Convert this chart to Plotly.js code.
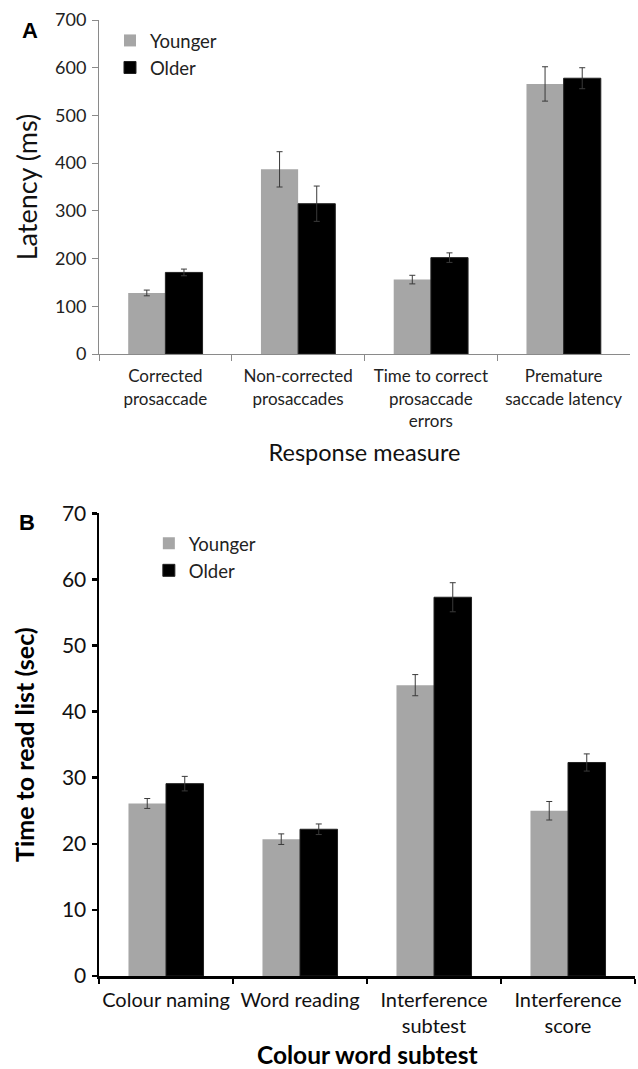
<!DOCTYPE html>
<html>
<head>
<meta charset="utf-8">
<script src="https://cdn.plot.ly/plotly-3.0.1.min.js"></script>
<style>html,body{margin:0;padding:0;background:#fff;}#chart{width:638px;height:1069px;}</style>
</head>
<body>
<div id="chart"></div>
<script>
// Panel A data
const catsA = ["Corrected<br>prosaccade", "Non-corrected<br>prosaccades", "Time to correct<br>prosaccade<br>errors", "Premature<br>saccade latency"];
const youngerA = [128, 387, 156, 566];
const youngerAErr = [6, 37, 9, 36];
const olderA = [171, 315, 202, 578];
const olderAErr = [7, 37, 10, 22];

// Panel B data
const catsB = ["Colour naming", "Word reading", "Interference<br>subtest", "Interference<br>score"];
const youngerB = [26.1, 20.7, 44.0, 25.0];
const youngerBErr = [0.75, 0.8, 1.6, 1.4];
const olderB = [29.1, 22.2, 57.3, 32.3];
const olderBErr = [1.1, 0.8, 2.2, 1.3];

const seriesNames = ["Younger", "Older"];

const FONT = "Lato, 'Open Sans', sans-serif";
const GREY = "#a6a6a6";
const ERRC = "#3a3a3a";

const traces = [
  {type: "bar", x: catsA, y: youngerA, name: seriesNames[0], xaxis: "x", yaxis: "y",
   marker: {color: GREY}, legend: "legend", legendgroup: "a1",
   error_y: {type: "data", array: youngerAErr, visible: true, color: ERRC, thickness: 1, width: 3}},
  {type: "bar", x: catsA, y: olderA, name: seriesNames[1], xaxis: "x", yaxis: "y",
   marker: {color: "#000", line: {color: "#222", width: 1}}, legend: "legend", legendgroup: "a2",
   error_y: {type: "data", array: olderAErr, visible: true, color: ERRC, thickness: 1, width: 3}},
  {type: "bar", x: catsB, y: youngerB, name: seriesNames[0], xaxis: "x2", yaxis: "y2",
   marker: {color: GREY}, legend: "legend2", legendgroup: "b1",
   error_y: {type: "data", array: youngerBErr, visible: true, color: ERRC, thickness: 1, width: 3}},
  {type: "bar", x: catsB, y: olderB, name: seriesNames[1], xaxis: "x2", yaxis: "y2",
   marker: {color: "#000", line: {color: "#222", width: 1}}, legend: "legend2", legendgroup: "b2",
   error_y: {type: "data", array: olderBErr, visible: true, color: ERRC, thickness: 1, width: 3}}
];

const layout = {
  width: 638, height: 1069,
  margin: {l: 99, r: 3, t: 20, b: 93},
  paper_bgcolor: "#fff", plot_bgcolor: "#fff",
  font: {family: FONT, color: "#222"},
  barmode: "group", bargap: 0.44, bargroupgap: 0,
  showlegend: true,
  xaxis: {
    domain: [0, 0.9907], anchor: "y", type: "category",
    showline: true, linecolor: "#8a8a8a", linewidth: 1,
    ticks: "outside", tickson: "boundaries", ticklen: 6, tickcolor: "#8a8a8a", tickwidth: 1,
    tickfont: {size: 17, color: "#222"}, ticklabelstandoff: 7, tickangle: 0,
    title: {text: "Response measure", font: {size: 23.5, color: "#111"}, standoff: 14},
    showgrid: false, zeroline: false, automargin: false, fixedrange: true
  },
  yaxis: {
    domain: [0.6506, 1], anchor: "x", range: [0, 700], dtick: 100,
    showline: true, linecolor: "#8a8a8a", linewidth: 1,
    ticks: "outside", ticklen: 6, tickcolor: "#8a8a8a", tickwidth: 1,
    tickfont: {size: 18, color: "#222"}, ticklabelstandoff: 2,
    title: {text: "Latency (ms)", font: {size: 27, color: "#111"}, standoff: 9},
    showgrid: false, zeroline: false, automargin: false, fixedrange: true
  },
  xaxis2: {
    domain: [0, 1], anchor: "y2", type: "category",
    showline: true, linecolor: "#000", linewidth: 2.5,
    ticks: "outside", tickson: "boundaries", ticklen: 5, tickcolor: "#000", tickwidth: 2.5,
    tickfont: {size: 20, color: "#111"}, ticklabelstandoff: 4, tickangle: 0,
    showgrid: false, zeroline: false, automargin: false, fixedrange: true
  },
  yaxis2: {
    domain: [0, 0.484], anchor: "x2", range: [0, 70], dtick: 10,
    showline: true, linecolor: "#000", linewidth: 2.5,
    ticks: "outside", ticklen: 5, tickcolor: "#000", tickwidth: 2.5,
    tickfont: {size: 21, color: "#111"}, ticklabelstandoff: 1,
    title: {text: "<b>Time to read list (sec)</b>", font: {size: 25, color: "#000"}, standoff: 20},
    showgrid: false, zeroline: false, automargin: false, fixedrange: true
  },
  legend: {
    x: 0.0205, xanchor: "left", y: 0.998, yanchor: "top",
    font: {size: 18.5, color: "#222"}, bgcolor: "rgba(0,0,0,0)",
    tracegroupgap: 10, itemwidth: 30, traceorder: "normal"
  },
  legend2: {
    x: 0.093, xanchor: "left", y: 0.472, yanchor: "top",
    font: {size: 18.5, color: "#222"}, bgcolor: "rgba(0,0,0,0)",
    tracegroupgap: 20, itemwidth: 30, traceorder: "normal"
  },
  annotations: [
    {text: "<b>A</b>", xref: "paper", yref: "paper", x: -0.128, y: 0.9885, xanchor: "center", yanchor: "middle",
     showarrow: false, font: {family: "'Liberation Sans', Arial, sans-serif", size: 22, color: "#000"}},
    {text: "<b>B</b>", xref: "paper", yref: "paper", x: -0.1335, y: 0.4745, xanchor: "center", yanchor: "middle",
     showarrow: false, font: {family: "'Liberation Sans', Arial, sans-serif", size: 22, color: "#000"}},
    {text: "<b>Colour word subtest</b>", xref: "paper", yref: "paper", x: 0.5, y: -0.0826, xanchor: "center", yanchor: "middle",
     showarrow: false, font: {family: FONT, size: 24.5, color: "#000"}}
  ]
};

Plotly.newPlot("chart", traces, layout, {displayModeBar: false, staticPlot: true});
</script>
</body>
</html>
